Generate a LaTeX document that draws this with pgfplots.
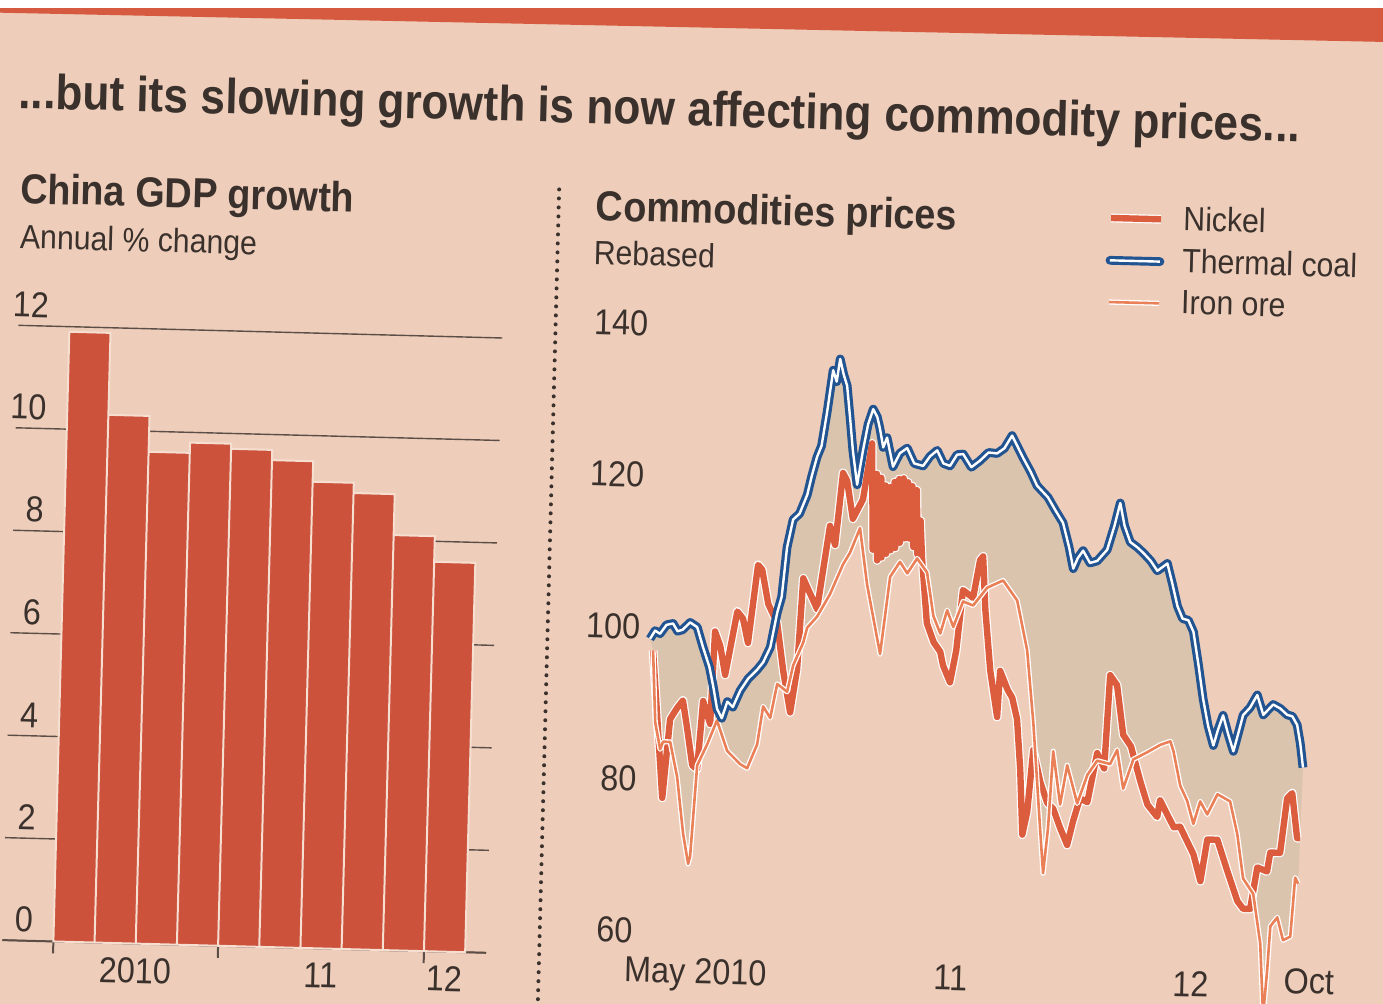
\documentclass[border=0pt]{standalone}
\usepackage{graphicx}
\usepackage{pgfplots}
\pgfplotsset{compat=1.18}
\usepackage{pgfplotstable}
\usepgfplotslibrary{fillbetween}
\usepackage{fontspec}
\setmainfont{Liberation Sans}[FakeStretch=0.9]

\definecolor{paper}{RGB}{238,206,186}
\definecolor{ink}{RGB}{58,48,44}
\definecolor{gridc}{RGB}{92,78,70}
\definecolor{barred}{RGB}{204,82,60}
\definecolor{bandred}{RGB}{214,90,64}
\definecolor{nickel}{RGB}{220,92,62}
\definecolor{iron}{RGB}{234,128,88}
\definecolor{coal}{RGB}{34,84,146}
\definecolor{shade}{RGB}{218,196,173}
\definecolor{sep}{RGB}{246,222,208}

\newcommand\tickfont{\fontsize{18}{20}\selectfont}
\newcommand\subfont{\fontsize{16.8}{19}\selectfont}
\newcommand\headfont{\fontsize{21}{24}\selectfont\bfseries}
\newcommand\titlefont{\fontsize{24.6}{28}\selectfont\bfseries}

% China GDP growth, annual % change, by quarter
\pgfplotstableread{
q v
1 11.9
2 10.3
3 9.6
4 9.8
5 9.7
6 9.5
7 9.1
8 8.9
9 8.1
10 7.6
}\gdptab

% commodities, rebased; x = months since 1 May 2010
\pgfplotstableread{
m v
0.18 101.5
0.40 102.6
0.62 102.2
0.90 103.4
1.19 103.6
1.40 102.6
1.62 102.8
1.95 103.8
2.27 103.2
2.55 100.6
2.86 98
3.05 95.5
3.25 92.5
3.47 91.3
3.70 93.5
3.95 92.8
4.26 95
4.60 96.6
4.99 97.8
5.25 98.8
5.55 100.8
5.82 105.4
6.00 107.5
6.18 114
6.42 117.7
6.70 118.5
7.02 121
7.20 123.5
7.41 126
7.60 127.5
7.81 132
8.03 137.5
8.20 136
8.33 139
8.50 137
8.67 135.5
8.85 131
9.00 127
9.23 122.5
9.45 127
9.65 130.5
9.86 132.5
10.05 131.5
10.18 130
10.35 127.5
10.51 128.8
10.81 125
11.10 126.8
11.42 127.5
11.75 125.5
12.15 125.2
12.45 126.5
12.76 127.3
13.05 125.6
13.35 125.3
13.65 126.8
13.92 126.9
14.30 125.2
14.68 126.1
15.05 127.2
15.43 127.1
15.75 127.8
16.08 129.5
16.35 128
16.60 126.6
16.95 124.8
17.25 123
17.75 121.5
18.10 119.8
18.45 118.2
18.75 115
18.96 112.2
19.15 113.6
19.38 114.6
19.70 113
20.02 113.3
20.45 114.8
20.75 118
20.98 121
21.20 118
21.47 115.9
21.80 115.2
22.07 114.5
22.40 113.5
22.71 112.2
23.15 113.2
23.40 110.5
23.65 107.6
23.89 106
24.15 105.8
24.39 104.3
24.65 100
24.90 95.5
25.15 92
25.41 89.4
25.60 91.5
25.81 93.4
26.05 91
26.31 88.7
26.50 91
26.70 93.5
27.00 94.5
27.31 96.2
27.60 93.6
28.03 95
28.35 94.5
28.66 93.7
28.90 93.5
29.12 92.4
29.28 90
29.43 86.8
}\coaltab

\pgfplotstableread{
m v
0.33 100
0.63 90
0.91 80.6
1.17 91
1.47 92.5
1.72 93.5
1.93 90
2.21 85
2.43 84.5
2.62 93.5
2.96 90.5
3.07 102.7
3.32 100.8
3.57 97
4.04 105.4
4.30 104.5
4.55 101.3
4.91 111.6
5.10 111
5.41 106.5
5.83 104
6.15 97.8
6.51 92.3
6.77 98
6.94 110
7.59 106
8.07 117
8.32 114.5
8.59 124
8.78 123
9.08 118
9.51 120.6
9.85 128
10.00 114
10.10 124
10.21 112.6
10.30 123.5
10.40 113
10.50 122.5
10.60 113.5
10.70 122.3
10.80 114
10.90 123
11.00 114.3
11.10 123.4
11.20 115
11.30 123.5
11.40 115.6
11.50 123
11.60 115.6
11.70 122.5
11.80 114.5
11.90 122
12.00 113.5
12.10 118
12.21 113
12.50 104.5
12.83 102
13.13 100.8
13.27 99
13.60 96.8
13.84 101
14.07 109
14.53 108
14.80 113
14.93 113.5
15.09 106.5
15.38 98.5
15.74 92.4
15.82 98.5
16.18 96
16.39 95
16.63 92.2
16.83 85.6
17.00 77
17.19 80
17.39 88.2
17.74 84
18.07 81.3
18.35 80.5
18.68 78
19.01 75.8
19.25 79
19.53 82
19.86 81.5
20.24 88
20.57 86
20.73 98.3
21.05 97
21.38 90.5
21.74 89
22.19 84.5
22.54 81.4
22.99 79.8
23.10 82
23.74 78.5
24.02 78.6
24.65 75
24.99 71.5
25.25 77
25.70 77
26.17 73
26.66 69
26.93 68
27.24 68
27.51 73.5
27.95 73
28.07 75.5
28.51 75.5
28.76 82.7
28.98 83.4
29.25 77.5
29.38 77.5
}\nickeltab

\pgfplotstableread{
m v
0.33 100
0.51 90.5
0.76 87
0.88 88
1.20 88
1.55 83.4
1.88 76
2.14 72
2.22 73
2.43 85
2.85 87.8
3.26 91
3.75 87
4.35 85.3
4.66 84.8
5.08 88
5.30 93
5.63 91.5
5.90 96
6.35 95
6.59 98.5
7.01 101.5
7.17 103.5
7.60 105
8.15 108
8.70 112
8.99 113.5
9.41 116.8
9.79 109.4
10.45 100.3
10.81 110.5
11.23 112.5
11.57 111
11.99 113
12.45 111.2
12.78 105.5
13.11 103.2
13.39 106.3
13.68 104.1
14.09 107.5
14.54 107
15.15 109.4
15.85 110.4
16.50 107.8
17.00 101.3
17.36 91.8
17.79 77.7
17.97 72
18.14 78
18.28 88.1
18.65 81.1
18.92 86.3
19.41 81.3
19.83 85.1
20.25 87
20.83 86.6
21.13 88.5
21.44 83.4
21.86 87.3
22.48 88.3
23.04 89.3
23.49 89.8
23.64 88.5
23.98 84
24.31 82
24.61 79
24.89 82
25.22 80.3
25.65 83
26.22 82.1
26.58 77.8
26.89 72
27.36 70
27.73 63.5
27.94 54
28.07 60
28.16 65.8
28.46 67
28.74 64
29.06 64.5
29.21 72.3
29.35 71.5
}\irontab

\begin{document}
\pagecolor{paper}%
\vbox to 502pt{\vss\hbox to 691.5pt{\hss\rotatebox[origin=c]{-1.5}{%
\begin{tikzpicture}
% paper, white margin and red band at the top
\fill[paper] (-30pt,30pt) rectangle (722pt,-535pt);
\fill[white] (-30pt,30pt) -- (722pt,30pt) -- (722pt,5.85pt) -- (-30pt,-13.85pt) -- cycle;
\fill[bandred] (-30pt,-13.85pt) -- (722pt,5.85pt) -- (722pt,-11.8pt) -- (-30pt,-15.6pt) -- cycle;

\node[anchor=base west, inner sep=0pt, text=ink, font=\titlefont] at (4pt,-63pt)
  {...but its slowing growth is now affecting commodity prices...};
\node[anchor=base west, inner sep=0pt, text=ink, font=\headfont] at (6pt,-110.5pt) {China GDP growth};
\node[anchor=base west, inner sep=0pt, text=ink, font=\subfont] at (6.5pt,-133pt) {Annual \% change};
\node[anchor=base west, inner sep=0pt, text=ink, font=\headfont] at (294pt,-111.5pt) {Commodities prices};
\node[anchor=base west, inner sep=0pt, text=ink, font=\subfont] at (293.5pt,-133.5pt) {Rebased};
\draw[ink, line width=2pt, line cap=round, dash pattern=on 0pt off 4.5pt] (275.5pt,-96.5pt) -- (275.5pt,-505pt);

% left: GDP bars
\begin{axis}[
  at={(7pt,-479pt)}, anchor=south west,
  width=242pt, height=307.5pt, scale only axis,
  xmin=-0.74, xmax=11.01, ymin=0, ymax=12,
  clip=false,
  axis lines*=left,
  y axis line style={draw=none},
  x axis line style={gridc, line width=1pt},
  ytick={0,2,...,12}, ymajorgrids,
  major grid style={gridc, line width=0.7pt},
  ytick style={draw=none},
  yticklabel style={anchor=south east, inner sep=0pt, xshift=15.25pt, yshift=4pt, font=\tickfont, text=ink},
  /pgf/number format/assume math mode=true,
  xtick={2.5,7,10}, xticklabels={2010,11,12},
  minor xtick={0.5,4.5,9.5},
  tick align=outside, major tick length=0pt, minor tick length=6pt,
  xtick style={gridc, line width=1pt},
  xticklabel style={font=\tickfont, text=ink, anchor=north, inner sep=0pt, yshift=-7pt},
]
\addplot[ybar, bar width=1, fill=barred, draw=sep, line width=1pt, forget plot] table[x=q, y=v] {\gdptab};
\end{axis}

% right: commodity prices
\begin{axis}[
  at={(295.5pt,-477.5pt)}, anchor=south west,
  width=375.5pt, height=303.75pt, scale only axis,
  xmin=-2.61, xmax=30.87, ymin=60, ymax=140,
  clip=false,
  axis lines*=left,
  y axis line style={draw=none},
  x axis line style={gridc, line width=1pt},
  ytick={60,80,...,140}, ymajorgrids,
  major grid style={gridc, line width=0.7pt},
  ytick style={draw=none},
  yticklabel style={anchor=south east, inner sep=0pt, xshift=26.5pt, yshift=5pt, font=\tickfont, text=ink},
  /pgf/number format/assume math mode=true,
  xtick={8,20}, xticklabels={,},
  minor xtick={1,2,3,4,5,6,7,9,10,11,12,13,14,15,16,17,18,19,21,22,23,24,25,26,27,28,29},
  tick align=inside, major tick length=8pt, minor tick length=4pt,
  xtick style={gridc, line width=0.9pt},
  extra x ticks={2.59,13.96,24.67,29.94},
  extra x tick labels={May 2010,11,12,\raisebox{-9pt}[0pt][0pt]{Oct}},
  extra x tick style={major tick length=0pt,
    xticklabel style={font=\tickfont, text=ink, anchor=north, inner sep=0pt, yshift=-1.5pt}},
  legend style={at={(0.676,1.2576)}, anchor=north west, draw=none, fill=none,
    font=\subfont, text=ink, row sep=5.5pt, inner sep=0pt, nodes={inner sep=1pt},
    /tikz/every odd column/.append style={column sep=8pt}},
  legend cell align=left,
]
\addplot[name path=coalp, draw=none, forget plot] table[x=m, y=v] {\coaltab};
\addplot[name path=ironp, draw=none, forget plot] table[x=m, y=v] {\irontab};
\addplot[fill=shade, draw=none, forget plot] fill between[of=coalp and ironp, on layer=main];
\addplot[white, line width=4.4pt, line join=round, forget plot] table[x=m, y=v] {\nickeltab};
\addplot[nickel, line width=3.2pt, line join=round, forget plot] table[x=m, y=v] {\nickeltab};
\addplot[white, line width=2.6pt, line join=round, forget plot] table[x=m, y=v] {\irontab};
\addplot[iron, line width=1.3pt, line join=round, forget plot] table[x=m, y=v] {\irontab};
\addplot[coal, line width=4.4pt, line join=round, forget plot] table[x=m, y=v] {\coaltab};
\addplot[white, line width=1.2pt, line join=round, forget plot] table[x=m, y=v] {\coaltab};

\addlegendimage{legend image code/.code={
  \draw[white, line width=4.4pt] (0pt,0pt) -- (25pt,0pt);
  \draw[nickel, line width=3.2pt] (0pt,0pt) -- (25pt,0pt);}}
\addlegendentry{Nickel}
\addlegendimage{legend image code/.code={
  \draw[coal, line width=4.4pt, line cap=round] (0pt,0pt) -- (25pt,0pt);
  \draw[white, line width=1.2pt] (0pt,0pt) -- (25pt,0pt);}}
\addlegendentry{Thermal coal}
\addlegendimage{legend image code/.code={
  \draw[white, line width=2.6pt] (0pt,0pt) -- (25pt,0pt);
  \draw[iron, line width=1.3pt] (0pt,0pt) -- (25pt,0pt);}}
\addlegendentry{Iron ore}
\end{axis}

\pgfresetboundingbox
\useasboundingbox (0pt,0pt) rectangle (691.5pt,-502pt);
\end{tikzpicture}}\hss}\vss}
\end{document}
